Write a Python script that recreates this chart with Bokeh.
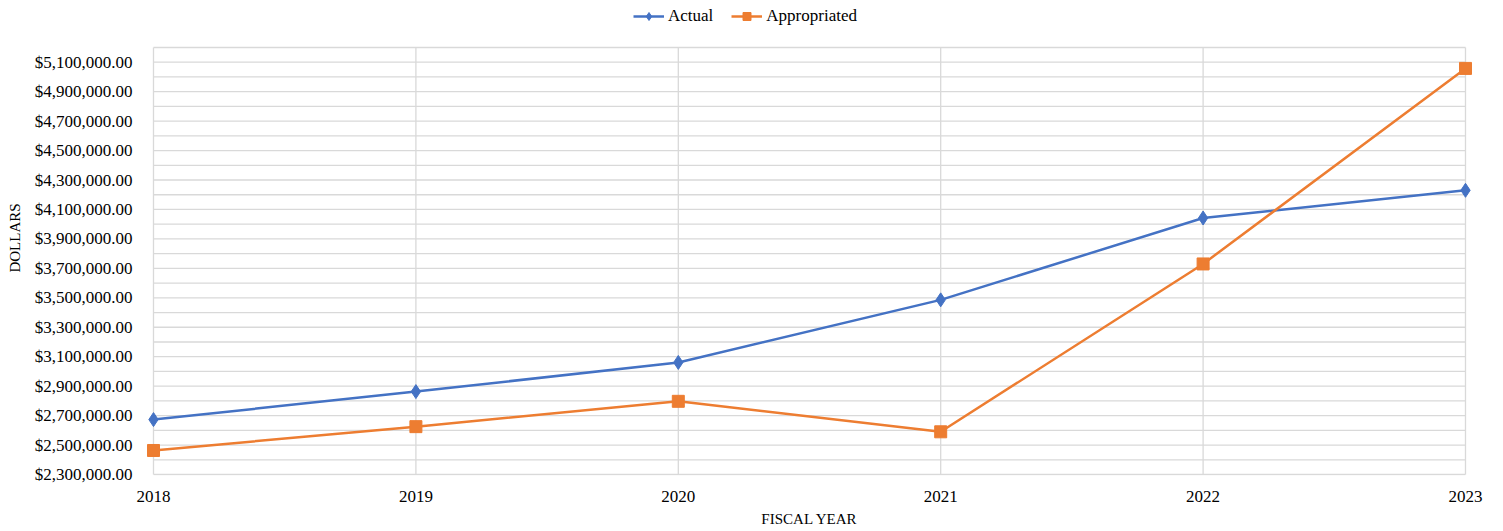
from bokeh.plotting import figure
from bokeh.models import (FixedTicker, NumeralTickFormatter, Range1d, Legend, LegendItem)
from bokeh.embed import file_html
from bokeh.resources import INLINE

years = [2018, 2019, 2020, 2021, 2022, 2023]
actual = [2673000, 2863000, 3061000, 3486000, 4042000, 4230000]
appropriated = [2463000, 2625000, 2797000, 2590000, 3730000, 5058000]
y_major_ticks = list(range(2300000, 5100001, 200000))
y_minor_ticks = list(range(2300000, 5200001, 100000))
y_min, y_max = 2300000, 5200000

FONT = "Liberation Serif"
BLUE = "#4472C4"
ORANGE = "#ED7D31"
GRID = "#d9d9d9"

px_per_year = 262.4
x_pad = 8 / px_per_year
val_per_px = (y_max - y_min) / 427.0

p = figure(width=1503, height=531, output_backend="svg", toolbar_location=None,
           x_range=Range1d(years[0] - x_pad, years[-1] + x_pad),
           y_range=Range1d(y_min - val_per_px, y_min + 474 * val_per_px),
           min_border_left=145, min_border_right=30, min_border_top=0, min_border_bottom=56)

p.outline_line_color = None
p.xgrid.grid_line_color = None
p.ygrid.grid_line_color = None

# plot-area grid (kept within the data extent)
p.segment(x0=[years[0]] * len(y_minor_ticks), y0=y_minor_ticks,
          x1=[years[-1]] * len(y_minor_ticks), y1=y_minor_ticks,
          line_color=GRID, line_width=1.3)
p.segment(x0=years, y0=[y_min] * len(years), x1=years, y1=[y_max] * len(years),
          line_color=GRID, line_width=1.3)

p.xaxis.ticker = FixedTicker(ticks=years)
p.yaxis.ticker = FixedTicker(ticks=y_major_ticks)
p.yaxis.formatter = NumeralTickFormatter(format="$0,0.00")
p.xaxis.bounds = (years[0], years[-1])
p.yaxis.bounds = (y_min, y_max)

for ax in (p.xaxis[0], p.yaxis[0]):
    ax.axis_line_color = None
    ax.major_tick_line_color = None
    ax.minor_tick_line_color = None
    ax.major_label_text_font = FONT
    ax.major_label_text_font_size = "17px"
    ax.major_label_text_color = "#000000"
    ax.axis_label_text_font = FONT
    ax.axis_label_text_font_size = "15px"
    ax.axis_label_text_font_style = "normal"
    ax.axis_label_text_color = "#000000"

p.xaxis.axis_label = "FISCAL YEAR"
p.yaxis.axis_label = "DOLLARS"
p.xaxis.major_label_standoff = 9
p.yaxis.major_label_standoff = 7
p.xaxis.axis_label_standoff = 6
p.yaxis.axis_label_standoff = 9

l1 = p.line(years, actual, line_color=BLUE, line_width=2.5)
m1 = p.scatter(years, actual, marker="diamond", size=14, fill_color=BLUE, line_color=BLUE)
l2 = p.line(years, appropriated, line_color=ORANGE, line_width=2.5)
m2 = p.scatter(years, appropriated, marker="square", size=12, fill_color=ORANGE, line_color=ORANGE)

legend = Legend(items=[LegendItem(label="Actual", renderers=[l1, m1]),
                       LegendItem(label="Appropriated", renderers=[l2, m2])],
                orientation="horizontal", location=(488, 449),
                label_text_font=FONT, label_text_font_size="17px",
                label_text_color="#000000", border_line_color=None,
                background_fill_alpha=0, glyph_width=31, spacing=18,
                padding=4, margin=0, label_standoff=4)
p.add_layout(legend, "center")

open("out.html", "w").write(file_html(p, INLINE))
